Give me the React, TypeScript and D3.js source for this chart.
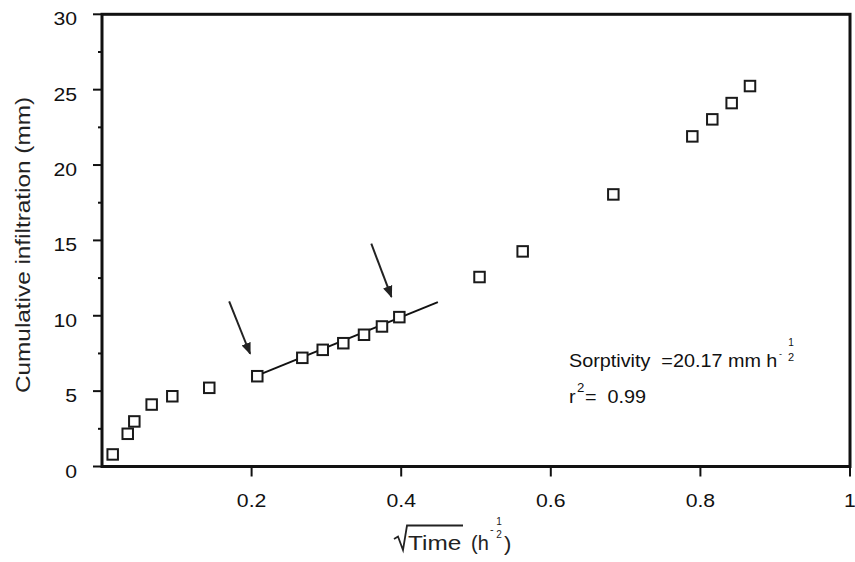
import React from "react";
import * as d3 from "d3";

// Data: sqrt(time) (h^-1/2) vs cumulative infiltration (mm)
const sqrtTime = [
  0.0143, 0.0344, 0.0432, 0.0664, 0.094, 0.1434, 0.2076, 0.2678, 0.2951, 0.3226,
  0.3503, 0.3743, 0.3975, 0.5047, 0.5624, 0.6836, 0.7892, 0.8159, 0.8418, 0.8663,
];
const infiltration = [
  0.8, 2.17, 2.99, 4.11, 4.66, 5.22, 5.99, 7.21, 7.74, 8.18,
  8.74, 9.29, 9.91, 12.57, 14.27, 18.05, 21.9, 23.03, 24.11, 25.24,
];
// Fitted line: I = S * sqrt(t) + b over the fitted interval
const fitSlope = 20.17;
const fitIntercept = 1.85;
const fitRange = [0.208, 0.449];
// Arrows marking the fitted interval (data coords: from -> to)
const arrowsFrom = [[0.170, 10.95], [0.360, 14.78]];
const arrowsTo = [[0.198, 7.48], [0.387, 11.26]];

const xTicks = [0.2, 0.4, 0.6, 0.8, 1];
const xTickLabels = ["0.2", "0.4", "0.6", "0.8", "1"];
const yTicks = [0, 5, 10, 15, 20, 25, 30];
const yMinorTicks = [2.5, 7.5, 12.5, 17.5, 22.5, 27.5];

const W = 855;
const H = 562;
const FONT = "'Liberation Sans', Arial, Helvetica, sans-serif";
const SX = 1.18;

function T(props: {
  x: number; y: number; size: number; anchor?: string; sx?: number; fill?: string; children: any;
}) {
  const { x, y, size, anchor = "start", sx = SX, fill = "#111", children } = props;
  return (
    <text
      transform={`translate(${x},${y}) scale(${sx},1)`}
      fontSize={size}
      textAnchor={anchor}
      fill={fill}
      fontFamily={FONT}
      style={{ whiteSpace: "pre" }}
    >
      {children}
    </text>
  );
}

export default function App() {
  const x = d3.scaleLinear().domain([0, 1]).range([102, 850]);
  const y = d3.scaleLinear().domain([0, 30]).range([466.5, 14.3]);
  const left = x(0);
  const right = x(1);
  const top = y(30);
  const bottom = y(0);
  const sq = 10.5;

  const fitLine = d3.line<number>()
    .x((d) => x(d))
    .y((d) => y(fitSlope * d + fitIntercept));

  return (
    <svg
      width={W}
      height={H}
      style={{ position: "absolute", left: 0, top: 0, background: "#fff" }}
    >
      <defs>
        <marker id="ah" viewBox="0 0 10 10" refX="9" refY="5" markerWidth="6" markerHeight="6"
          orient="auto" markerUnits="strokeWidth" preserveAspectRatio="none">
          <path d="M0,1 L10,5 L0,9 z" fill="#222" />
        </marker>
      </defs>
      {/* frame */}
      <rect x={left} y={top} width={right - left} height={bottom - top}
        fill="none" stroke="#111" strokeWidth={3} />
      {/* y ticks */}
      {yTicks.map((t) => (
        <g key={"yt" + t}>
          <line x1={left - 9} x2={left} y1={y(t)} y2={y(t)} stroke="#111" strokeWidth={2} />
          <T x={77} y={y(t) + 11} size={18} anchor="end">{String(t)}</T>
        </g>
      ))}
      {yMinorTicks.map((t) => (
        <line key={"ym" + t} x1={left - 4} x2={left} y1={y(t)} y2={y(t)} stroke="#111" strokeWidth={2} />
      ))}
      {/* x ticks */}
      {xTicks.map((t, i) => (
        <g key={"xt" + t}>
          <line x1={x(t)} x2={x(t)} y1={bottom} y2={bottom + 10} stroke="#111" strokeWidth={2} />
          <T x={x(t)} y={507} size={18} anchor="middle">{xTickLabels[i]}</T>
        </g>
      ))}
      {/* y label */}
      <text
        transform={`translate(30,245) rotate(-90)`}
        fontSize={20}
        textAnchor="middle"
        fill="#222"
        fontFamily={FONT}
        textLength={296}
        lengthAdjust="spacingAndGlyphs"
      >
        Cumulative infiltration (mm)
      </text>
      {/* x label: √Time (h^-1/2) */}
      <g>
        <path d="M394,539 L398,536.5 L403,550 L407,525.5 L463,525.5" fill="none" stroke="#222"
          strokeWidth={1.8} strokeLinejoin="miter" />
        <T x={408} y={550} size={21} sx={1.16} fill="#222">Time</T>
        <T x={471} y={550} size={21} sx={0.95} fill="#222">(h</T>
        <T x={490} y={533} size={11} sx={1} fill="#222">-</T>
        <T x={499} y={525} size={10} sx={1} anchor="middle" fill="#222">1</T>
        <T x={499} y={538} size={10} sx={1} anchor="middle" fill="#222">2</T>
        <T x={504} y={551} size={21} sx={1.05} fill="#222">)</T>
      </g>
      {/* fitted line */}
      <path d={fitLine(fitRange) || ""} fill="none" stroke="#111" strokeWidth={2} />
      {/* arrows */}
      {arrowsFrom.map((f, i) => (
        <line key={"ar" + i} x1={x(f[0])} y1={y(f[1])} x2={x(arrowsTo[i][0])} y2={y(arrowsTo[i][1])}
          stroke="#222" strokeWidth={2} markerEnd="url(#ah)" />
      ))}
      {/* points */}
      {sqrtTime.map((v, i) => (
        <rect key={"p" + i} x={x(v) - sq / 2} y={y(infiltration[i]) - sq / 2} width={sq} height={sq}
          fill="#fff" stroke="#1a1a1a" strokeWidth={2} />
      ))}
      {/* annotation */}
      <T x={569} y={367} size={18} sx={1.1}>{"Sorptivity  =20.17 mm h"}</T>
      <T x={779} y={357} size={9} sx={1}>-</T>
      <T x={791} y={346} size={10} sx={1} anchor="middle">1</T>
      <T x={791} y={361} size={11} sx={1} anchor="middle">2</T>
      <T x={569} y={403} size={18} sx={1.1}>r</T>
      <T x={577} y={392} size={12} sx={1.1}>2</T>
      <T x={585} y={403} size={18} sx={1.1}>{"=  0.99"}</T>
    </svg>
  );
}
